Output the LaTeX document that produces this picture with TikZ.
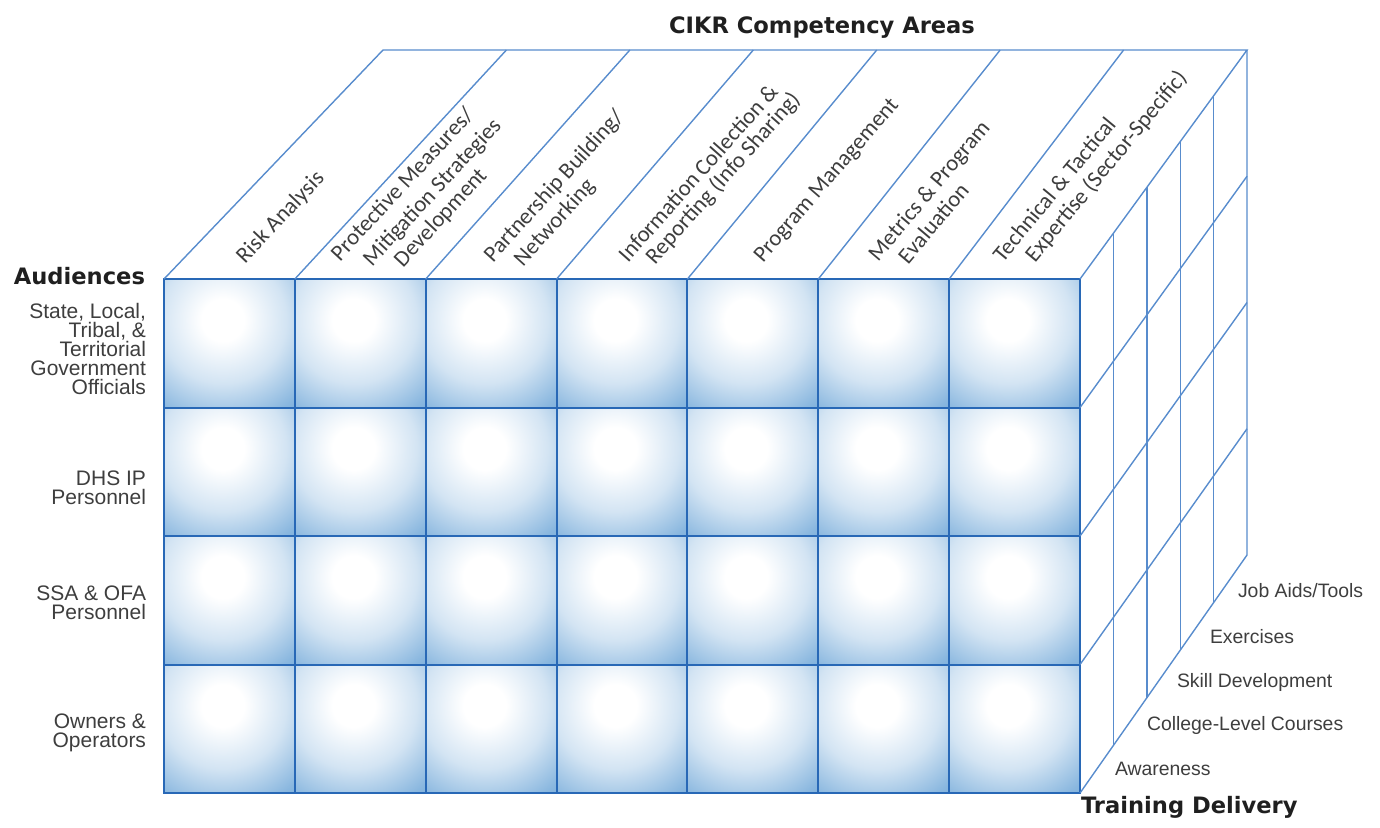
\documentclass[tikz,border=0pt]{standalone}
\usepackage{fontspec}
\setmainfont{Liberation Sans}
\newfontfamily\labelfont{Carlito}
\newfontfamily\titlefont{DejaVu Sans}

\definecolor{gridblue}{RGB}{40,104,182}
\definecolor{edgeblue}{RGB}{88,140,205}
\definecolor{cellblue}{RGB}{108,165,215}
\definecolor{labelgray}{RGB}{62,62,62}

\pgfdeclareradialshading{cellglow}{\pgfpoint{0bp}{0bp}}{color(0bp)=(white); color(4bp)=(white); color(12bp)=(cellblue!30); color(20bp)=(cellblue!80); color(25bp)=(cellblue); color(50bp)=(cellblue)}

\begin{document}
\begin{tikzpicture}[x=0.5pt, y=0.5pt, yscale=-1, inner sep=0pt, outer sep=0pt,
  frontline/.style={draw=gridblue, line width=1pt},
  sideline/.style={draw=edgeblue, line width=0.7pt},
  toplabel/.style={anchor=base west, font=\labelfont\fontsize{11.4}{12}\selectfont, text=labelgray},
  audlabel/.style={anchor=east, align=right, font=\fontsize{10.5}{9.5}\selectfont, text=labelgray},
  dellabel/.style={anchor=base west, font=\fontsize{9.7}{11}\selectfont, text=labelgray},
  axistitle/.style={font=\titlefont\bfseries\fontsize{11.3}{13}\selectfont, text=black!88}]

  \useasboundingbox (0,0) rectangle (1380,827);

  % front face cells
  \foreach \i in {0,...,6} {
    \foreach \j in {0,...,3} {
      \begin{scope}
        \clip ({164+130.86*\i},{279+128.5*\j}) rectangle ++(130.86,128.5);
        \shade[shading=cellglow] ({164+130.86*(\i+0.45)},{279+128.5*(\j+0.32)}) circle (132);
      \end{scope}
    }
  }

  % front grid
  \path[frontline] (164,279) rectangle (1080,793);
  \foreach \i in {1,...,6}
    \path[frontline] ({164+130.86*\i},279) -- ({164+130.86*\i},793);
  \foreach \j in {1,2,3}
    \path[frontline] (164,{279+128.5*\j}) -- (1080,{279+128.5*\j});

  % top face
  \path[sideline] (164,279) -- (383,50) -- (1247,50) -- (1080,279);
  \foreach \i in {1,...,6}
    \path[sideline] ({164+130.86*\i},279) -- ({383+123.43*\i},50);

  % right face
  \path[sideline] (1247,50) -- (1247,555) -- (1080,793);
  \foreach \j in {1,2,3}
    \path[sideline] (1080,{279+128.5*\j}) -- (1247,{50+126.25*\j});
  \foreach \k in {1,...,4}
    \path[sideline] ({1080+33.4*\k},{279-45.8*\k}) -- ({1080+33.4*\k},{793-47.6*\k});

  % competency areas
  \node[axistitle, anchor=base] (competency) at (822,33) {CIKR Competency Areas};
  \node[toplabel, rotate=46.5] (risk) at (245,264) {Risk Analysis};
  \node[toplabel, rotate=47.15] (protect1) at (340,262) {Protective Measures/};
  \node[toplabel, rotate=47.15] (protect2) at (372,267) {Mitigation Strategies};
  \node[toplabel, rotate=47.15] (protect3) at (403,268) {Development};
  \node[toplabel, rotate=47.8] (partner1) at (493,263) {Partnership Building/};
  \node[toplabel, rotate=47.8] (partner2) at (523,267) {Networking};
  \node[toplabel, rotate=48.45] (info1) at (628,263) {Information Collection \&};
  \node[toplabel, rotate=48.45] (info2) at (655,265) {Reporting (Info Sharing)};
  \node[toplabel, rotate=49.1] (program) at (763,263) {Program Management};
  \node[toplabel, rotate=49.75] (metrics1) at (878,262) {Metrics \& Program};
  \node[toplabel, rotate=49.75] (metrics2) at (908,265) {Evaluation};
  \node[toplabel, rotate=50.4] (tech1) at (1003,263) {Technical \& Tactical};
  \node[toplabel, rotate=50.4] (tech2) at (1035,263) {Expertise (Sector-Specific)};

  % audiences
  \node[axistitle, anchor=base east] (audiences) at (145,284) {Audiences};
  \node[audlabel] (officials) at (146,349) {State, Local,\\Tribal, \&\\Territorial\\Government\\Officials};
  \node[audlabel] (dhs) at (146,488) {DHS IP\\Personnel};
  \node[audlabel] (ssa) at (146,603) {SSA \& OFA\\Personnel};
  \node[audlabel] (owners) at (146,733) {Owners \&\\Operators};

  % training delivery
  \node[dellabel] (awareness) at (1115,775) {Awareness};
  \node[dellabel] (college) at (1147,730) {College-Level Courses};
  \node[dellabel] (skill) at (1177,687) {Skill Development};
  \node[dellabel] (exercises) at (1210,643) {Exercises};
  \node[dellabel] (jobaids) at (1238,597) {Job Aids/Tools};
  \node[axistitle, anchor=base west] (delivery) at (1081,813) {Training Delivery};

\end{tikzpicture}
\end{document}
